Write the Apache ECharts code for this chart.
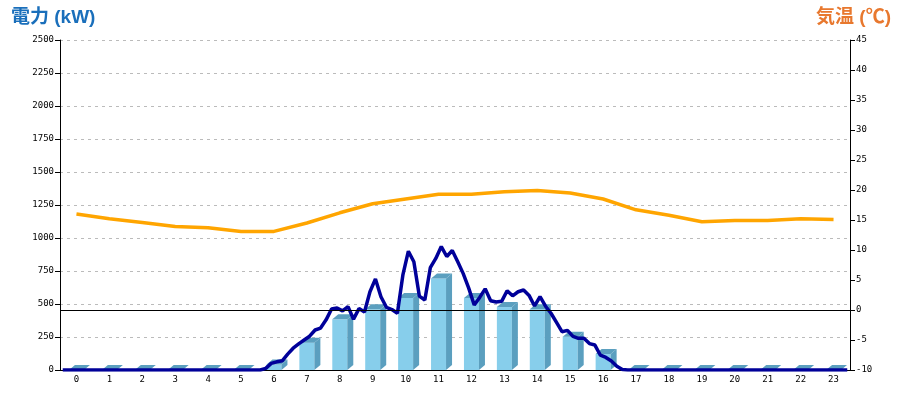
<!DOCTYPE html>
<html>
<head>
<meta charset="utf-8">
<script src="https://cdn.jsdelivr.net/npm/echarts@6/dist/echarts.min.js"></script>
<style>html,body{margin:0;padding:0;background:#fff;}#c{width:900px;height:400px;}</style>
</head>
<body>
<div id="c"></div>
<script>
// Hourly categories
const hours = ['0','1','2','3','4','5','6','7','8','9','10','11','12','13','14','15','16','17','18','19','20','21','22','23'];
// Hourly power (kW) bars
const hourlyPower = [0,0,0,0,0,0,42,207,384,460,545,694,545,477,460,252,121,0,0,0,0,0,0,0];
// Hourly temperature (°C)
const temperature = [16.0,15.2,14.6,13.9,13.7,13.1,13.1,14.5,16.2,17.7,18.5,19.3,19.3,19.7,19.9,19.5,18.5,16.7,15.8,14.7,14.9,14.9,15.2,15.1];
// 10-minute power (kW), 0:00 .. 23:50 (one group of 6 per hour)
const powerDetail = [
  0,0,0,0,0,0,   0,0,0,0,0,0,   0,0,0,0,0,0,   0,0,0,0,0,0,   0,0,0,0,0,0,   0,0,0,0,0,0,
  0,12,50,62,70,120,   165,198,227,256,303,318,   380,462,470,448,480,385,   465,440,593,690,555,475,
  458,430,720,900,820,560,   530,775,845,935,860,905,   820,730,620,492,550,615,   525,515,520,600,562,593,
  606,565,485,555,483,430,   360,290,300,255,240,240,   200,189,112,95,68,28,   3,0,0,0,0,0,
  0,0,0,0,0,0,   0,0,0,0,0,0,   0,0,0,0,0,0,   0,0,0,0,0,0,   0,0,0,0,0,0,   0,0,0,0,0,0
];
// Tick labels
const slotLabels = [];
for (let h = 0; h < 24; h++) for (let m = 0; m < 60; m += 10) slotLabels.push(h + ':' + (m < 10 ? '0' + m : m));

const chart = echarts.init(document.getElementById('c'), null, {renderer: 'canvas'});
const labelFont = {fontFamily: 'DejaVu Sans Mono', fontSize: 9, color: '#000'};
const titleFont = "'Liberation Sans', 'Noto Sans CJK JP', sans-serif";
const FRONT = '#87ceeb', SIDE = '#5b9fbf';

const option = {
  animation: false,
  title: [
    {text: '電力 (kW)', left: 6, top: 3, textStyle: {fontFamily: titleFont, fontWeight: 'bold', fontSize: 19, color: '#1a6fbb'}},
    {text: '気温 (℃)', right: 4, top: 3, textStyle: {fontFamily: titleFont, fontWeight: 'bold', fontSize: 19, color: '#e8782e'}}
  ],
  grid: {left: 60, right: 50, top: 40, bottom: 30},
  xAxis: [
    {type: 'category', data: hours, boundaryGap: true,
     axisLine: {lineStyle: {color: '#000', width: 1}}, axisTick: {show: false},
     axisLabel: Object.assign({margin: 5}, labelFont), splitLine: {show: false}},
    {type: 'category', data: slotLabels, boundaryGap: true, show: false, position: 'bottom'}
  ],
  yAxis: [
    {type: 'value', min: 0, max: 2500, interval: 250, position: 'left',
     axisLine: {show: true, lineStyle: {color: '#000'}},
     axisTick: {show: true, length: 5, lineStyle: {color: '#000'}},
     axisLabel: Object.assign({margin: 6, formatter: v => String(v)}, labelFont),
     splitLine: {show: true, lineStyle: {color: '#bbbbbb', type: [3, 4], width: 1}}},
    {type: 'value', min: -10, max: 45, interval: 5, position: 'right',
     axisLine: {show: true, lineStyle: {color: '#000'}},
     axisTick: {show: true, length: 5, lineStyle: {color: '#000'}},
     axisLabel: Object.assign({margin: 6, formatter: v => String(v)}, labelFont),
     splitLine: {show: false}}
  ],
  series: [
    {
      type: 'custom', xAxisIndex: 0, yAxisIndex: 0, z: 2,
      data: hourlyPower.map((v, i) => [i, v]),
      renderItem: function (params, api) {
        const idx = api.value(0), v = api.value(1);
        const top = api.coord([idx, v]);
        const base = api.coord([idx, 0]);
        const hw = 7.5, dx = 6, dy = 5;
        const l = top[0] - hw, r = top[0] + hw;
        const children = [];
        if (v > 0) {
          children.push({type: 'rect', shape: {x: l, y: top[1], width: r - l, height: base[1] - top[1]}, style: {fill: FRONT}});
          children.push({type: 'polygon', shape: {points: [[r, top[1]], [r + dx, top[1] - dy], [r + dx, base[1] - dy], [r, base[1]]]}, style: {fill: SIDE}});
        }
        children.push({type: 'polygon', shape: {points: [[l, top[1]], [r, top[1]], [r + dx, top[1] - dy], [l + dx, top[1] - dy]]}, style: {fill: SIDE}});
        return {type: 'group', children: children};
      }
    },
    {
      type: 'line', xAxisIndex: 1, yAxisIndex: 0, z: 4,
      data: powerDetail, showSymbol: false, symbol: 'none',
      lineStyle: {color: '#000099', width: 3.5}
    },
    {
      type: 'line', xAxisIndex: 0, yAxisIndex: 1, z: 3,
      data: temperature, showSymbol: false, symbol: 'none',
      lineStyle: {color: '#ffa500', width: 3.5},
      markLine: {silent: true, symbol: 'none', label: {show: false},
        lineStyle: {color: '#000', width: 1, type: 'solid'},
        data: [{yAxis: 0}]}
    }
  ]
};
chart.setOption(option);
</script>
</body>
</html>
